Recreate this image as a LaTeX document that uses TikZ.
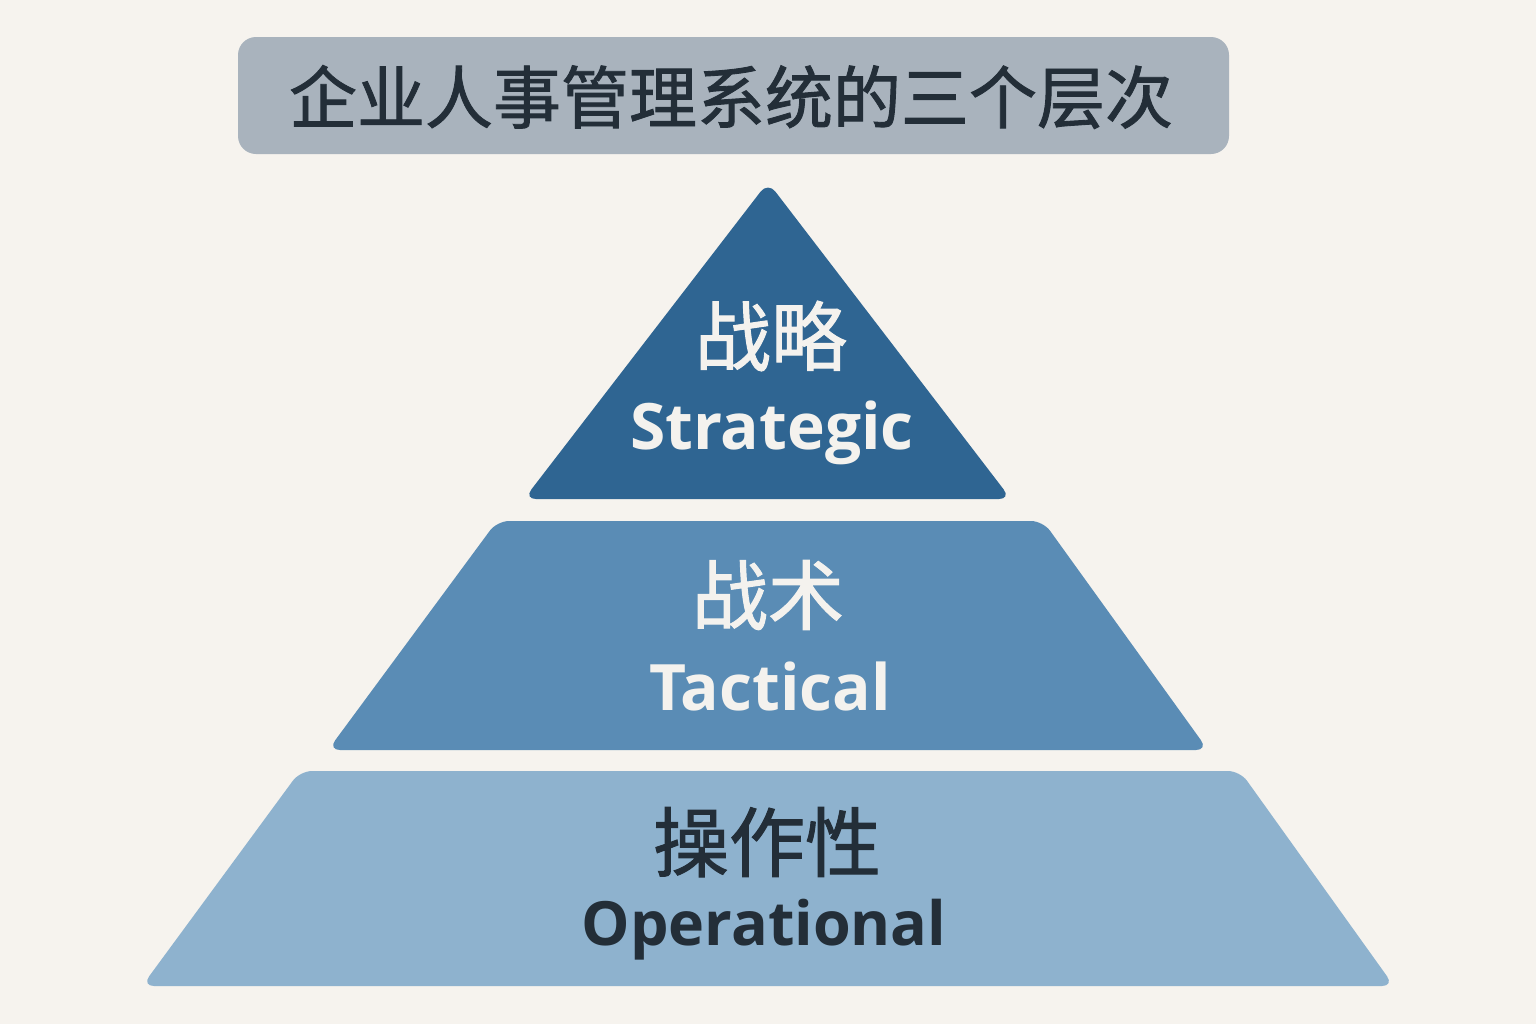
\documentclass[tikz,border=0pt]{standalone}
\usepackage{fontspec}
\setmainfont{Open Sans}
\newfontfamily\cjk[FakeBold=1.3]{Noto Sans CJK SC}
\newfontfamily\latb{Open Sans}
\definecolor{bg}{HTML}{F6F3EE}
\definecolor{titlebg}{HTML}{A9B3BD}
\definecolor{darktxt}{HTML}{232E38}
\definecolor{lvlone}{HTML}{2F6592}
\definecolor{lvltwo}{HTML}{5A8CB5}
\definecolor{lvlthree}{HTML}{8EB2CE}
\definecolor{lighttxt}{HTML}{F4F2EE}
\tikzset{
  cjklabel/.style={font=\cjk\fontsize{38}{40}\selectfont, inner sep=0pt},
  enlabel/.style={font=\latb\bfseries\fontsize{32}{36}\selectfont, inner sep=0pt},
  layer/.style={rounded corners=6pt}
}
\begin{document}
\begin{tikzpicture}[x=0.5pt,y=-0.5pt]
\useasboundingbox (0,0) rectangle (1536,1024);
\fill[bg] (0,0) rectangle (1536,1024);
% title
\fill[titlebg, rounded corners=9pt] (238,37) rectangle (1229,154);
\node[font=\cjk\fontsize{34}{36}\selectfont, text=darktxt, inner sep=0pt] (title) at (731,97) {企业人事管理系统的三个层次};
% layers
\fill[lvlone, layer] (768,182) -- (1011,499) -- (524,499) -- cycle;
\fill[lvltwo, layer] (497,521) -- (1043,521) -- (1208,750) -- (328,750) -- cycle;
\fill[lvlthree, layer] (300,771) -- (1240,771) -- (1394,986) -- (142,986) -- cycle;
% labels
\node[cjklabel, text=lighttxt] (s1) at (771,336) {战略};
\node[enlabel, text=lighttxt] (s2) at (772,433) {Strategic};
\node[cjklabel, text=lighttxt] (t1) at (768,595) {战术};
\node[enlabel, text=lighttxt] (t2) at (770,686) {Tactical};
\node[cjklabel, text=darktxt] (o1) at (767,842) {操作性};
\node[enlabel, font=\latb\bfseries\fontsize{30.5}{34}\selectfont, text=darktxt] (o2) at (764,930) {Operational};
\end{tikzpicture}
\end{document}
